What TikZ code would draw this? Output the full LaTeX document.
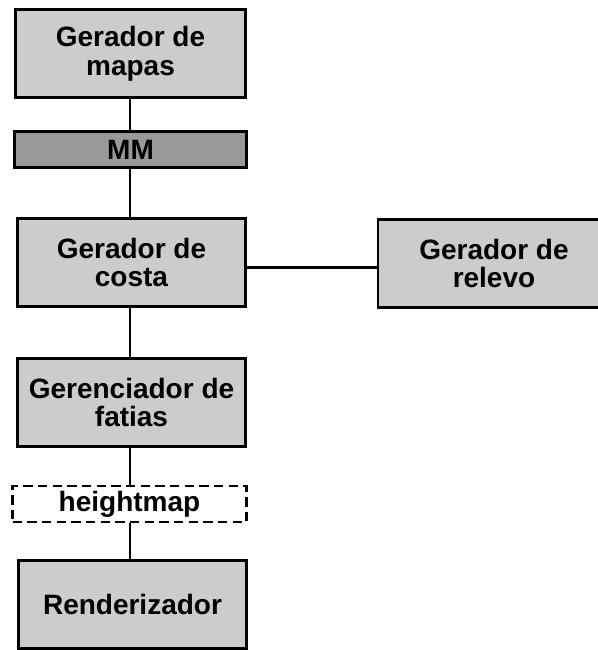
\documentclass[tikz,border=0pt]{standalone}
\usepackage{fontspec}
\setmainfont{Liberation Sans}
\begin{document}
\begin{tikzpicture}[x=0.75pt,y=-0.75pt,
  box/.style={draw=black,line width=2.2pt,fill=boxgray,rectangle,inner sep=0pt,
    minimum width=230*0.75pt,minimum height=88*0.75pt,align=center,
    font=\bfseries\fontsize{21}{21.5}\selectfont},
  thinbox/.style={box,minimum height=36*0.75pt},
  link/.style={line width=2.2pt,draw=black}]
\definecolor{boxgray}{HTML}{CCCCCC}
\definecolor{darkgray}{HTML}{999999}
\useasboundingbox (0,0) rectangle (598,650);
\node[box] (mapas) at (130.5,53.5) {Gerador de\\mapas};
\node[thinbox,fill=darkgray,minimum width=232*0.75pt] (mm) at (130.5,149.5) {MM};
\node[box,minimum width=228*0.75pt] (costa) at (131.5,262.5) {Gerador de\\costa};
\node[box,minimum width=232*0.75pt] (relevo) at (494,263.5) {Gerador de\\relevo};
\node[box,minimum width=228*0.75pt] (fatias) at (131.5,402.5) {Gerenciador de\\fatias};
\node[thinbox,fill=white,dashed,dash pattern=on 7pt off 4pt,minimum width=234*0.75pt] (hm) at (129.5,504) {heightmap};
\node[box,minimum width=228*0.75pt] (rend) at (132.5,604.5) {Renderizador};
\draw[link] ([xshift=-0.5*0.75pt]mapas.south) -- ([xshift=-0.5*0.75pt]mm.north);
\draw[link] ([xshift=-0.5*0.75pt]mm.south) -- ([xshift=-1.5*0.75pt]costa.north);
\draw[link] ([xshift=-1.5*0.75pt]costa.south) -- ([xshift=-1.5*0.75pt]fatias.north);
\draw[link] ([xshift=-1.5*0.75pt]fatias.south) -- ([xshift=0.5*0.75pt]hm.north);
\draw[link] ([xshift=0.5*0.75pt]hm.south) -- ([xshift=-2.5*0.75pt]rend.north);
\draw[link] ([yshift=-5*0.75pt]costa.east) -- ([yshift=-4*0.75pt]relevo.west);
\end{tikzpicture}
\end{document}
